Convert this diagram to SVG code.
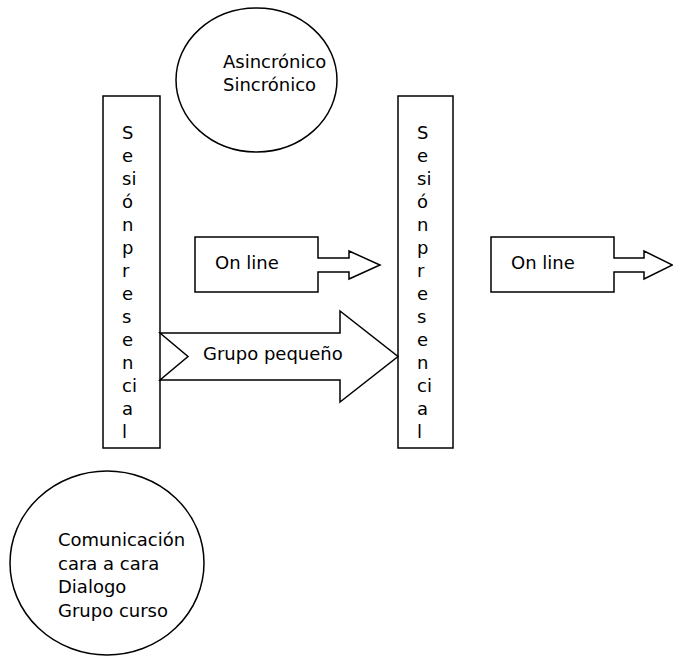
<svg xmlns="http://www.w3.org/2000/svg" width="673" height="657" viewBox="0 0 673 657">
  <style>
    .shape { fill: #ffffff; stroke: #000000; stroke-width: 1.5; stroke-linejoin: miter; }
    .t { font-family: "DejaVu Sans", "Liberation Sans", sans-serif; font-size: 18px; fill: #000000; }
  </style>
  <rect x="0" y="0" width="673" height="657" fill="#ffffff"/>

  <g id="ellipse-sincronia">
    <ellipse class="shape" cx="256.5" cy="80" rx="80.5" ry="72"/>
    <text class="t" x="223" y="68">Asincrónico</text>
    <text class="t" x="223" y="91">Sincrónico</text>
  </g>

  <g id="sesion-presencial-1">
    <rect class="shape" x="103" y="96" width="57" height="352"/>
    <text class="t">
      <tspan x="122" y="139">S</tspan>
      <tspan x="122" y="162">e</tspan>
      <tspan x="122" y="185">si</tspan>
      <tspan x="122" y="208">ó</tspan>
      <tspan x="122" y="231">n</tspan>
      <tspan x="122" y="254">p</tspan>
      <tspan x="122" y="277">r</tspan>
      <tspan x="122" y="300">e</tspan>
      <tspan x="122" y="323">s</tspan>
      <tspan x="122" y="346">e</tspan>
      <tspan x="122" y="369">n</tspan>
      <tspan x="122" y="392">ci</tspan>
      <tspan x="122" y="415">a</tspan>
      <tspan x="122" y="438">l</tspan>
    </text>
  </g>

  <g id="sesion-presencial-2">
    <rect class="shape" x="398" y="96" width="55" height="352"/>
    <text class="t">
      <tspan x="417" y="139">S</tspan>
      <tspan x="417" y="162">e</tspan>
      <tspan x="417" y="185">si</tspan>
      <tspan x="417" y="208">ó</tspan>
      <tspan x="417" y="231">n</tspan>
      <tspan x="417" y="254">p</tspan>
      <tspan x="417" y="277">r</tspan>
      <tspan x="417" y="300">e</tspan>
      <tspan x="417" y="323">s</tspan>
      <tspan x="417" y="346">e</tspan>
      <tspan x="417" y="369">n</tspan>
      <tspan x="417" y="392">ci</tspan>
      <tspan x="417" y="415">a</tspan>
      <tspan x="417" y="438">l</tspan>
    </text>
  </g>

  <g id="online-1">
    <path class="shape" d="M195,237 H318 V258 H349 V251 L380,265 L349,279 V272 H318 V292 H195 Z"/>
    <text class="t" x="215" y="269">On line</text>
  </g>

  <g id="online-2">
    <path class="shape" d="M491,237 H614 V258 H644 V251 L672.5,265 L644,279 V272 H614 V292 H491 Z"/>
    <text class="t" x="511" y="269">On line</text>
  </g>

  <g id="connectors">
    <g id="grupo-pequeno">
      <path class="shape" d="M160,333 H340 V311 L398,356.5 L340,402 V380 H160 L188,356.5 Z"/>
      <text class="t" x="203" y="360">Grupo pequeño</text>
    </g>
  </g>

  <g id="ellipse-comunicacion">
    <ellipse class="shape" cx="107" cy="563" rx="97" ry="92"/>
    <text class="t" x="58" y="546">Comunicación</text>
    <text class="t" x="58" y="569.5">cara a cara</text>
    <text class="t" x="58" y="593">Dialogo</text>
    <text class="t" x="58" y="616.5">Grupo curso</text>
  </g>
</svg>
